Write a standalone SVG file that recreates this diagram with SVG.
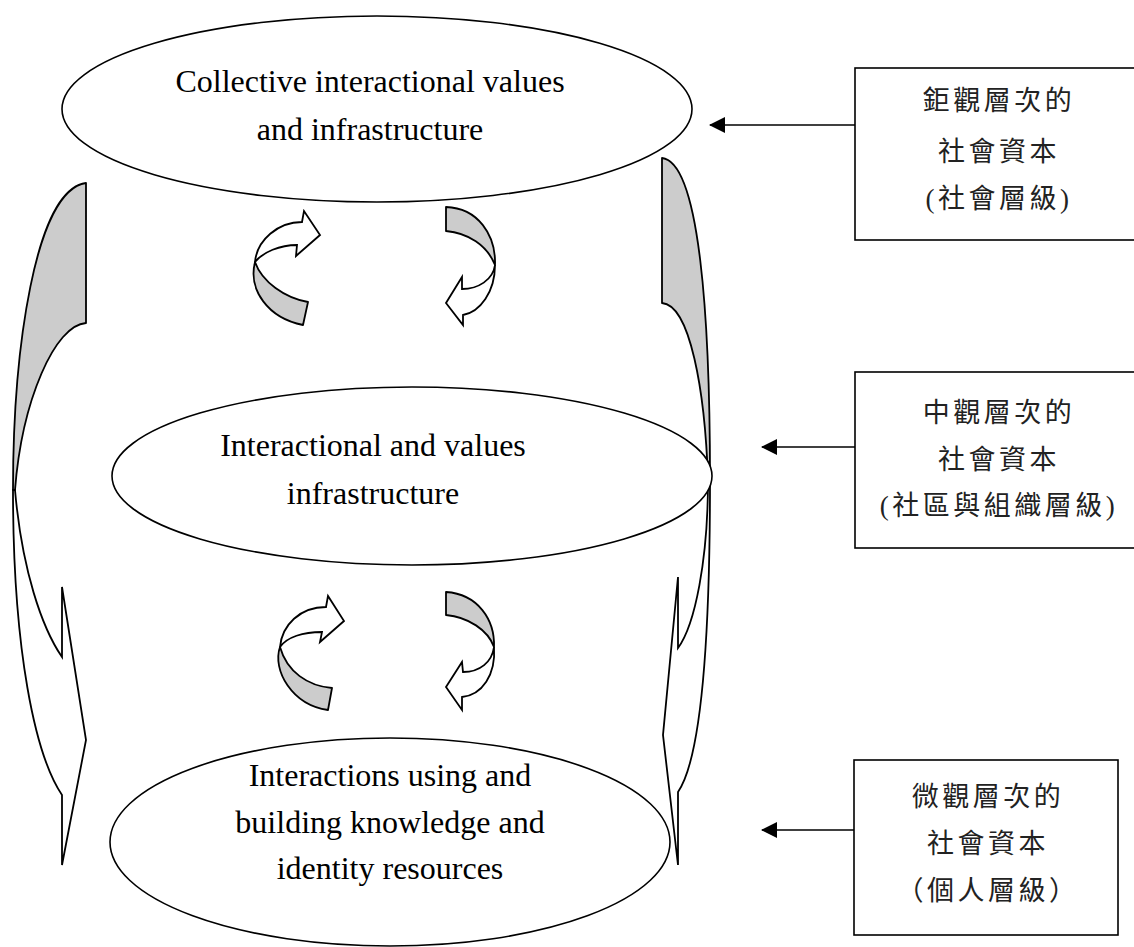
<svg xmlns="http://www.w3.org/2000/svg" width="1134" height="947" viewBox="0 0 1134 947">
<style>
.ell{fill:#fff;stroke:#000;stroke-width:1.6}
.en{font-family:"Liberation Serif","Times New Roman",serif;font-size:32px;fill:#000;text-anchor:middle}
.box{fill:#fff;stroke:#000;stroke-width:1.6}
.cjk{font-family:"Liberation Serif","Noto Sans CJK TC","Noto Sans CJK SC",serif;font-size:27px;fill:#222;text-anchor:middle;letter-spacing:3.5px}
.g{fill:#cccccc;stroke:#000;stroke-width:1.8;stroke-linejoin:round}
.w{fill:#fff;stroke:#000;stroke-width:1.8;stroke-linejoin:miter}
.con{stroke:#000;stroke-width:1.6;fill:none}
</style>
<defs>
<marker id="ah" markerWidth="16" markerHeight="16" refX="15" refY="8" orient="auto" markerUnits="userSpaceOnUse">
<path d="M0,0 L16,8 L0,16 Z" fill="#000"/>
</marker>
</defs>
<rect width="1134" height="947" fill="#fff"/>

<g id="side-arrow-left">
<path class="g" d="M86,183 L86,323 C55,325 22,400 15,490 L13,490 C13,350 35,190 86,183 Z"/>
<path class="w" d="M15,490 C22,570 42,628 62,657 L62,587 L86,740 L62,865 L62,795 C35,755 13,650 13,490 Z"/>
</g>
<g id="side-arrow-right">
<path class="g" d="M662,158 L662,303 C690,305 705,390 708,480 L710,480 C710,320 700,162 662,158 Z"/>
<path class="w" d="M708,480 C708,560 695,625 678,648 L678,577 L663,735 L678,865 L678,792 C700,760 710,650 710,480 Z"/>
</g>

<g id="node-collective">
<ellipse class="ell" cx="377" cy="109" rx="315" ry="93"/>
<text class="en" x="370" y="92">Collective interactional values</text>
<text class="en" x="370" y="140">and infrastructure</text>
</g>
<g id="node-interactional">
<ellipse class="ell" cx="412" cy="476" rx="300" ry="89"/>
<text class="en" x="373" y="456">Interactional and values</text>
<text class="en" x="373" y="504">infrastructure</text>
</g>
<g id="node-interactions">
<ellipse class="ell" cx="390" cy="842" rx="280" ry="104"/>
<text class="en" x="390" y="786">Interactions using and</text>
<text class="en" x="390" y="833">building knowledge and</text>
<text class="en" x="390" y="879">identity resources</text>
</g>

<g id="cycle-top-left">
<path class="g" d="M255,262 C248,290 268,318 303,325 L308,302 C285,298 262,282 255,262 Z"/>
<path class="w" d="M255,262 C257,240 278,222 302,222 L304,211 L320,235 L296,256 L297,245 C280,245 263,252 255,262 Z"/>
</g>
<g id="cycle-top-right">
<path class="g" d="M446,207 L446,231 C468,233 487,245 495,265 C496,235 478,208 446,207 Z"/>
<path class="w" d="M495,265 C493,280 478,289 462,289 L462,277 L446,303 L463,325 L463,315 C480,312 495,292 495,265 Z"/>
</g>
<g id="cycle-bottom-left">
<path class="g" d="M280,647 C272,670 292,705 328,710 L332,688 C308,686 287,672 280,647 Z"/>
<path class="w" d="M280,647 C282,625 300,607 326,607 L328,596 L344,621 L320,642 L322,632 C303,632 287,637 280,647 Z"/>
</g>
<g id="cycle-bottom-right">
<path class="g" d="M446,592 L446,615 C468,617 488,630 494,647 C495,620 478,594 446,592 Z"/>
<path class="w" d="M494,647 C492,662 480,672 463,672 L462,662 L446,687 L462,710 L462,697 C482,695 496,675 494,647 Z"/>
</g>

<g id="box-macro">
<rect class="box" x="855" y="68" width="290" height="172"/>
<text class="cjk" x="999" y="110">鉅觀層次的</text>
<text class="cjk" x="999" y="161">社會資本</text>
<text class="cjk" x="999" y="208">(社會層級)</text>
</g>
<g id="box-meso">
<rect class="box" x="855" y="372" width="290" height="176"/>
<text class="cjk" x="999" y="422">中觀層次的</text>
<text class="cjk" x="999" y="469">社會資本</text>
<text class="cjk" x="999" y="515">(社區與組織層級)</text>
</g>
<g id="box-micro">
<rect class="box" x="854" y="760" width="264" height="175"/>
<text class="cjk" x="988" y="806">微觀層次的</text>
<text class="cjk" x="988" y="853">社會資本</text>
<text class="cjk" x="988" y="900">（個人層級）</text>
</g>

<g id="connectors">
<line class="con" x1="855" y1="125" x2="710" y2="125" marker-end="url(#ah)"/>
<line class="con" x1="855" y1="447" x2="762" y2="447" marker-end="url(#ah)"/>
<line class="con" x1="854" y1="830" x2="762" y2="830" marker-end="url(#ah)"/>
</g>
</svg>
